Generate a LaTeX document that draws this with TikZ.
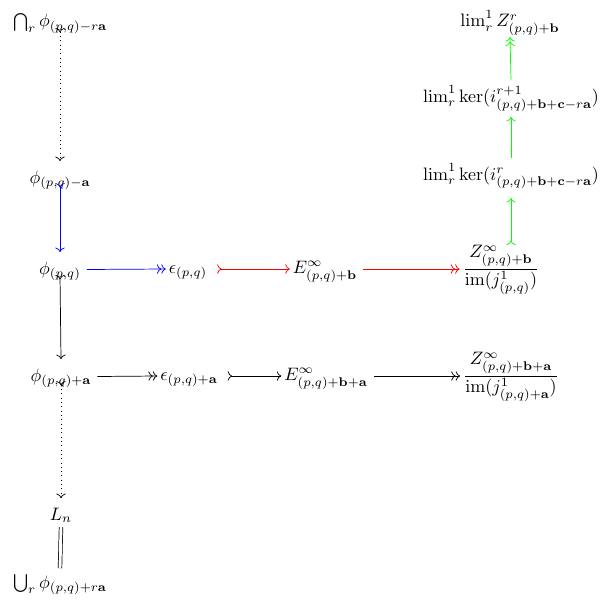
\documentclass[tikz,border=0pt]{standalone}
\usepackage{amsmath}
\usetikzlibrary{arrows.meta}
\begin{document}
\begin{tikzpicture}[x=0.5556pt,y=-0.5556pt,
  every node/.style={inner sep=1.5pt, anchor=base},
  arr/.style={-{Computer Modern Rightarrow}},
  mono/.style={{Computer Modern Rightarrow[reversed]}-{Computer Modern Rightarrow}},
  epi/.style={-{Computer Modern Rightarrow[]Computer Modern Rightarrow[]}},
  ax/.style={yshift=2.5pt},
  src/.style={yshift=2.5pt, xshift=1.7pt},
  tailsrc/.style={yshift=2.5pt, xshift=3.9pt},
  top/.style={yshift=12.2pt}
]
\useasboundingbox (0,0) rectangle (603,604);

% left column
\node (cap)  at (60,27)  {$\bigcap_r \phi_{(p,q)-r\mathbf{a}}$};
\node (phim) at (60,183) {$\phi_{(p,q)-\mathbf{a}}$};
\node (phi)  at (60,274) {$\phi_{(p,q)}$};
\node (phip) at (61,381) {$\phi_{(p,q)+\mathbf{a}}$};
\node (Ln)   at (61,520) {$L_n$};
\node (cup)  at (60,588) {$\bigcup_r \phi_{(p,q)+r\mathbf{a}}$};

% rows
\node (eps)  at (188,273.5) {$\epsilon_{(p,q)}$};
\node (E)    at (325,273.5) {$E^\infty_{(p,q)+\mathbf{b}}$};
\node (Q)    at (501,273.5) {$\dfrac{Z^\infty_{(p,q)+\mathbf{b}}}{\operatorname{im}(j^1_{(p,q)})}$};
\node (epsa) at (189,380.5) {$\epsilon_{(p,q)+\mathbf{a}}$};
\node (Ea)   at (326,380.5) {$E^\infty_{(p,q)+\mathbf{b}+\mathbf{a}}$};
\node (Qa)   at (511,380.5) {$\dfrac{Z^\infty_{(p,q)+\mathbf{b}+\mathbf{a}}}{\operatorname{im}(j^1_{(p,q)+\mathbf{a}})}$};

% right column
\node (limZ)  at (510,27)  {$\lim^1_r Z^r_{(p,q)+\mathbf{b}}$};
\node (limK1) at (511,102) {$\lim^1_r \ker(i^{r+1}_{(p,q)+\mathbf{b}+\mathbf{c}-r\mathbf{a}})$};
\node (limK)  at (511,180) {$\lim^1_r \ker(i^{r}_{(p,q)+\mathbf{b}+\mathbf{c}-r\mathbf{a}})$};

% vertical maps
\draw[dotted, mono] ([yshift=-0.5pt]cap.base) -- ([top]phim.base);
\draw[blue, mono] (phim.base) -- ([top]phi.base);
\draw[mono] ([yshift=-0.5pt]phi.base) -- ([top]phip.base);
\draw[dotted, mono] (phip.base) -- ([top]Ln.base);
\draw[double, double distance=1.6pt] ([yshift=-4pt]Ln.base) -- ([yshift=11pt]cup.base);

% horizontal maps
\draw[blue, epi] ([src]phi.base east) -- ([ax]eps.base west);
\draw[red, mono] ([tailsrc]eps.base east) -- ([ax]E.base west);
\draw[red, epi] ([src]E.base east) -- ([ax]Q.base west);
\draw[epi] ([src]phip.base east) -- ([ax]epsa.base west);
\draw[mono] ([tailsrc]epsa.base east) -- ([ax]Ea.base west);
\draw[epi] ([src]Ea.base east) -- ([ax]Qa.base west);

% lim^1 tower
\draw[green, mono] ([yshift=15.8pt]Q.base -| limK.base) -- ([yshift=-10pt]limK.base);
\draw[green, arr] ([top]limK.base) -- ([yshift=-8.3pt]limK1.base);
\draw[green, epi] ([top]limK1.base) -- ([yshift=-5.6pt]limZ.base);
\end{tikzpicture}
\end{document}
